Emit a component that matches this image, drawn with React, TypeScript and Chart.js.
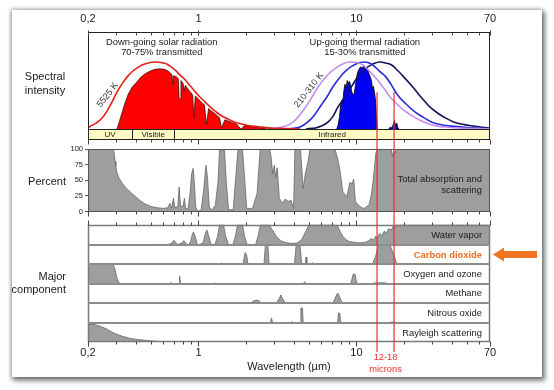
import { useEffect, useRef } from 'react';
import { Chart, registerables } from 'chart.js';

Chart.register(...registerables);

const FONT = '"Liberation Sans", Arial, sans-serif';

// ---------- axes / ticks ----------
const xTickValues = [0.2, 0.3, 0.4, 0.5, 0.6, 0.7, 0.8, 0.9, 1, 2, 3, 4, 5, 6, 7, 8, 9, 10, 20, 30, 40, 50, 60, 70];
const xLabelValues = [0.2, 1, 10, 70];
const xLabelTexts = ['0,2', '1', '10', '70'];
const pctTicks = [0, 25, 50, 75, 100];

const bandNames = ['UV', 'Visible', 'Infrared'];
const bandEdges = [0.2, 0.38, 0.705, 70];

const co2Window = [13.5, 17.3];
const co2WindowLabel = ['12-18', 'microns'];

// ---------- spectral intensity panel (wavelength µm, relative intensity) ----------
const solarBlackbody = [[0.2, 1], [0.203, 2], [0.225, 6], [0.245, 11], [0.265, 19], [0.284, 28], [0.305, 38], [0.33, 47], [0.355, 54], [0.38, 59], [0.41, 63], [0.44, 66], [0.48, 68], [0.53, 69], [0.58, 68.5], [0.63, 67], [0.67, 64], [0.71, 61], [0.76, 56], [0.82, 51], [0.88, 45], [0.96, 38], [1.02, 33], [1.1, 28], [1.2, 22], [1.33, 16], [1.5, 11], [1.7, 7], [1.9, 5], [2.18, 3], [2.5, 2], [2.9, 1], [3.5, 0.5], [4.4, 0]];
const solarTransmitted = [[0.305, 0], [0.315, 7], [0.33, 18], [0.345, 28], [0.36, 36], [0.38, 43], [0.4, 47], [0.43, 53], [0.46, 57], [0.5, 60], [0.53, 61.5], [0.57, 62], [0.61, 61.5], [0.64, 60], [0.67, 57], [0.68, 56], [0.688, 46], [0.697, 55], [0.72, 54], [0.745, 52], [0.755, 32], [0.765, 31], [0.775, 50], [0.8, 47], [0.812, 39], [0.825, 45], [0.86, 41], [0.9, 37], [0.92, 35], [0.935, 11], [0.955, 34], [1.0, 31], [1.05, 27], [1.09, 25], [1.125, 5], [1.16, 21], [1.22, 18], [1.3, 14.5], [1.36, 11.5], [1.4, 1], [1.47, 9.5], [1.55, 8], [1.65, 6.5], [1.75, 5], [1.83, 1], [1.88, 0], [1.95, 3.5], [2.05, 3], [2.2, 2.5], [2.4, 1.5], [2.6, 1], [2.7, 0], [3.0, 0.5], [3.5, 0]];
const thermalHot = [[2.9, 0.3], [3.4, 2], [3.8, 5], [4.2, 11], [4.6, 19], [5.1, 30], [5.6, 41], [6.2, 51], [6.9, 59], [7.6, 64], [8.3, 67.5], [9.1, 69], [10, 68.5], [11, 66], [12.2, 59], [13.5, 51], [14.9, 42], [16.3, 33], [18, 26], [19.7, 20], [22.3, 14], [25.2, 9], [28.5, 5.5], [32.5, 3], [38, 1.8], [44, 1], [55, 0.4], [70, 0.2]];
const thermalMid = [[3.8, 0.3], [4.4, 2], [4.9, 7], [5.4, 14], [6.0, 25], [6.5, 33], [7.0, 42], [7.5, 49], [8.1, 56], [8.7, 61], [9.3, 64.5], [10.1, 67.5], [11.0, 69], [11.8, 68.5], [12.7, 66], [13.9, 60], [15.3, 54], [16.7, 45], [18.2, 35], [20.5, 26], [23.3, 18], [26.5, 12], [30, 7], [35, 4.2], [40, 3], [50, 1.5], [62, 0.7], [70, 0.4]];
const thermalCold = [[4.8, 0.3], [5.5, 1], [6.0, 3], [6.6, 7], [7.1, 13], [7.6, 22], [8.2, 30], [8.8, 38], [9.5, 46], [10.2, 54], [11.0, 60], [11.8, 64], [12.9, 67.5], [14.1, 69], [15.3, 68], [16.7, 66], [18.3, 60], [20.1, 53], [22.8, 43], [25.9, 32], [29, 23], [32.9, 16], [37, 11], [41.5, 7], [48, 4.5], [55, 3], [62, 1.8], [70, 1]];
const thermalTransmitted = [[7.5, 0], [7.65, 4], [7.8, 12], [7.95, 25], [8.1, 30], [8.2, 27], [8.3, 38], [8.45, 46], [8.6, 43], [8.75, 50], [8.9, 47], [9.05, 49], [9.2, 44], [9.35, 38], [9.55, 35], [9.7, 37], [9.85, 45], [10.0, 52], [10.15, 58], [10.35, 61], [10.6, 64], [10.85, 63], [11.1, 65], [11.4, 62], [11.7, 63], [12.0, 57], [12.2, 54], [12.45, 50], [12.6, 42], [12.8, 44], [13.0, 38], [13.2, 30], [13.4, 12], [13.6, 0]];
const thermalTransmittedFar = [[16.0, 0], [16.4, 2], [16.8, 1], [17.1, 5], [17.4, 9], [17.7, 3], [18.0, 6], [18.3, 1], [18.6, 0]];

// ---------- total absorption (%) ----------
const totalAbsorption = [[0.2, 100], [0.29, 100], [0.293, 92], [0.297, 80], [0.3, 72], [0.305, 62], [0.315, 53], [0.33, 45], [0.345, 39], [0.37, 31], [0.4, 24], [0.43, 17], [0.46, 12], [0.5, 8], [0.55, 6], [0.6, 5], [0.64, 6], [0.66, 13], [0.675, 5], [0.695, 21], [0.71, 6], [0.74, 8], [0.755, 39], [0.77, 8], [0.8, 9], [0.815, 21], [0.83, 4], [0.86, 5], [0.885, 29], [0.905, 60], [0.925, 69], [0.94, 50], [0.96, 8], [0.99, 0], [1.04, 3], [1.08, 35], [1.115, 74], [1.14, 55], [1.17, 8], [1.21, 2], [1.28, 10], [1.33, 48], [1.36, 98], [1.46, 98], [1.5, 48], [1.55, 3], [1.66, 3], [1.72, 53], [1.78, 100], [1.9, 100], [1.96, 53], [2.02, 5], [2.2, 5], [2.35, 29], [2.46, 100], [2.82, 100], [2.88, 88], [2.95, 60], [3.02, 74], [3.08, 55], [3.15, 70], [3.25, 21], [3.4, 14], [3.55, 20], [3.7, 16], [3.85, 18], [4.0, 5], [4.08, 100], [4.42, 100], [4.6, 37], [4.75, 61], [4.95, 81], [5.08, 100], [7.3, 100], [7.6, 85], [7.9, 63], [8.2, 31], [8.7, 24], [9.1, 47], [9.4, 44], [9.6, 52], [9.85, 16], [10.3, 10], [10.8, 6], [11.2, 5], [11.6, 8], [12.0, 10], [12.4, 26], [12.8, 52], [13.1, 80], [13.3, 95], [13.6, 100], [16.6, 100], [16.9, 88], [17.2, 97], [17.5, 92], [17.8, 100], [70, 100]];

// ---------- major components (%) ----------
const waterVapor = [[0.2, 0], [0.55, 0], [0.57, 2], [0.6, 0], [0.64, 0], [0.68, 8], [0.7, 22], [0.72, 10], [0.74, 0], [0.78, 8], [0.81, 20], [0.84, 3], [0.87, 0], [0.89, 15], [0.91, 45], [0.93, 64], [0.95, 45], [0.98, 5], [1.0, 0], [1.07, 8], [1.1, 50], [1.13, 74], [1.16, 45], [1.2, 2], [1.27, 0], [1.32, 40], [1.36, 100], [1.44, 100], [1.49, 40], [1.55, 2], [1.65, 0], [1.71, 40], [1.77, 100], [1.9, 100], [1.96, 40], [2.03, 2], [2.3, 0], [2.38, 40], [2.47, 100], [2.8, 100], [2.9, 80], [3.0, 62], [3.1, 45], [3.2, 30], [3.35, 18], [3.6, 10], [3.9, 6], [4.2, 8], [4.5, 25], [4.8, 70], [5.0, 100], [7.4, 100], [7.6, 92], [7.9, 65], [8.2, 42], [8.6, 25], [9.0, 16], [9.6, 12], [10.5, 9], [11.3, 11], [12.0, 20], [12.4, 32], [12.8, 22], [13.2, 42], [13.6, 33], [14.0, 56], [14.5, 46], [15.0, 68], [15.5, 58], [16.0, 80], [16.6, 73], [17.2, 95], [17.8, 100], [70, 100]];
const carbonDioxide = [[0.2, 0], [1.38, 0], [1.4, 8], [1.42, 0], [1.58, 0], [1.6, 5], [1.62, 0], [1.92, 0], [1.95, 40], [1.98, 60], [2.02, 45], [2.06, 0], [2.6, 0], [2.65, 95], [2.75, 95], [2.8, 0], [4.05, 0], [4.15, 95], [4.4, 95], [4.5, 0], [4.75, 0], [4.8, 37], [4.85, 0], [5.2, 0], [5.25, 8], [5.3, 0], [9.3, 0], [9.4, 5], [9.5, 0], [10.3, 0], [10.4, 5], [10.5, 0], [12.6, 0], [13.2, 40], [13.8, 97], [16.3, 97], [17.4, 40], [18.0, 0], [70, 0]];
const oxygenOzone = [[0.2, 100], [0.288, 100], [0.295, 80], [0.3, 55], [0.305, 30], [0.312, 10], [0.32, 0], [0.66, 0], [0.67, 6], [0.68, 0], [0.755, 0], [0.76, 40], [0.77, 0], [1.26, 0], [1.27, 5], [1.28, 0], [4.6, 0], [4.7, 10], [4.8, 0], [9.2, 0], [9.4, 30], [9.55, 50], [9.8, 48], [9.95, 20], [10.1, 0], [12.5, 0], [13.0, 4], [15, 5], [16, 0], [70, 0]];
const methane = [[0.2, 0], [2.15, 0], [2.25, 12], [2.35, 15], [2.45, 8], [2.5, 0], [3.1, 0], [3.2, 15], [3.28, 30], [3.32, 42], [3.38, 28], [3.45, 15], [3.55, 0], [7.1, 0], [7.3, 20], [7.5, 45], [7.65, 50], [7.8, 35], [8.0, 12], [8.2, 0], [70, 0]];
const nitrousOxide = [[0.2, 0], [2.85, 0], [2.9, 25], [2.95, 0], [3.85, 0], [3.9, 8], [3.95, 0], [4.4, 0], [4.45, 75], [4.55, 75], [4.6, 0], [7.6, 0], [7.7, 50], [7.85, 48], [7.95, 0], [8.5, 0], [8.6, 5], [8.7, 0], [16, 0], [16.6, 5], [17.5, 4], [18, 0], [70, 0]];
const rayleigh = [[0.2, 93], [0.22, 92], [0.24, 82], [0.26, 70], [0.28, 55], [0.3, 43], [0.33, 30], [0.37, 19], [0.41, 13], [0.46, 9], [0.5, 6], [0.57, 3], [0.64, 1.5], [0.75, 0.5], [0.85, 0], [70, 0]];

const componentNames = ['Water vapor', 'Carbon dioxide', 'Oxygen and ozone', 'Methane', 'Nitrous oxide', 'Rayleigh scattering'];
const componentSeries = [waterVapor, carbonDioxide, oxygenOzone, methane, nitrousOxide, rayleigh];
const componentAxes = ['yWV', 'yCO2', 'yO3', 'yCH4', 'yN2O', 'yRay'];

const pts = (a: number[][]) => a.map(([x, y]) => ({ x, y }));

function ds(label: string, data: number[][], yAxisID: string, opts: any = {}) {
  return {
    label, data: pts(data), xAxisID: 'x', yAxisID,
    pointRadius: 0, borderWidth: 1, tension: 0, fill: false, ...opts,
  };
}

function yHidden(stackWeight: number, weight: number, max = 100) {
  return {
    type: 'linear', position: 'left', stack: 'panels', stackWeight, weight, min: 0, max,
    grid: { display: false, drawTicks: false }, border: { display: false }, ticks: { display: false },
    afterFit: (s: any) => { s.width = 18; },
  };
}

function xAxis(position: 'top' | 'bottom') {
  return {
    type: 'logarithmic', position, min: 0.2, max: 70, bounds: 'data',
    afterBuildTicks: (s: any) => { s.ticks = xTickValues.map(v => ({ value: v, major: xLabelValues.includes(v) })); },
    ticks: {
      autoSkip: false, maxRotation: 0, minRotation: 0, color: '#1a1a1a',
      padding: position === 'top' ? 6 : 4,
      font: { size: 11, family: FONT },
      callback: (v: number) => { const i = xLabelValues.indexOf(v); return i >= 0 ? xLabelTexts[i] : ''; },
    },
    grid: { display: false, drawTicks: false, tickLength: 0 }, border: { display: false },
    title: position === 'bottom'
      ? { display: true, text: 'Wavelength (µm)', color: '#1a1a1a', font: { size: 11, family: FONT }, padding: { top: 0, bottom: 0 } }
      : { display: false },
    afterFit: (s: any) => { s.height = position === 'top' ? 20 : 32; },
  };
}

const overlayPlugin = {
  id: 'overlay',
  beforeDatasetsDraw(chart: any) {
    const { ctx, chartArea: ca, scales: s } = chart;
    ctx.save();
    ctx.fillStyle = '#fffac4';
    ctx.fillRect(ca.left, s.yBand.top, ca.right - ca.left, s.yBand.bottom - s.yBand.top);
    ctx.restore();
  },
  afterDatasetsDraw(chart: any) {
    const { ctx, chartArea: ca, scales: s } = chart;
    const x = s.x;
    const L = Math.round(ca.left) + 0.5;
    const R = Math.round(ca.right) - 0.5;
    const r = (v: number) => Math.round(v) + 0.5;
    const seg = (x1: number, y1: number, x2: number, y2: number) => { ctx.beginPath(); ctx.moveTo(x1, y1); ctx.lineTo(x2, y2); ctx.stroke(); };
    ctx.save();
    // spectral panel
    ctx.strokeStyle = '#222'; ctx.lineWidth = 1;
    ctx.strokeRect(L, r(s.ySpec.top), R - L, Math.round(s.ySpec.bottom) - Math.round(s.ySpec.top));
    // band
    const bt = r(s.yBand.top), bb = r(s.yBand.bottom) - 1;
    ctx.strokeRect(L, bt, R - L, bb - bt);
    bandEdges.slice(1, -1).forEach(v => { const px = r(x.getPixelForValue(v)); seg(px, bt, px, bb); });
    ctx.fillStyle = '#222'; ctx.font = `8px ${FONT}`; ctx.textAlign = 'center'; ctx.textBaseline = 'middle';
    bandNames.forEach((n, i) => {
      const c = Math.sqrt(bandEdges[i] * bandEdges[i + 1]);
      ctx.fillText(n, x.getPixelForValue(c), (bt + bb) / 2 + 0.5);
    });
    // percent panel
    const pt = r(s.yPct.top), pb = r(s.yPct.bottom) - 1;
    ctx.strokeStyle = '#555';
    ctx.strokeRect(L, pt, R - L, pb - pt);
    // component panels
    const ct = r(s.yWV.top), cb = r(s.yRay.bottom) - 1;
    ctx.strokeStyle = '#7a7a7a'; ctx.lineWidth = 1.5;
    ctx.strokeRect(L, ct, R - L, cb - ct);
    ctx.strokeStyle = '#8c8c8c'; ctx.lineWidth = 2;
    componentAxes.slice(1).forEach(id => { const y = Math.round(s[id].top); seg(ca.left, y, ca.right, y); });
    // tick marks
    ctx.strokeStyle = '#444'; ctx.lineWidth = 1;
    xTickValues.forEach(v => {
      const px = r(x.getPixelForValue(v));
      const big = xLabelValues.includes(v) ? 2 : 0;
      seg(px, r(s.ySpec.top) - big, px, r(s.ySpec.top) + 3);
      seg(px, bb, px, bb + 3 + big);
      seg(px, pb, px, pb + 3 + big);
      seg(px, ct - 3 - big, px, ct);
      seg(px, cb, px, cb + 3 + big);
    });
    // 12-18 micron lines
    ctx.strokeStyle = '#e8302a'; ctx.lineWidth = 1.2;
    const yTop = s.ySpec.getPixelForValue(38);
    co2Window.forEach(v => { const px = x.getPixelForValue(v); seg(px, yTop, px, ca.bottom + 10); });
    ctx.restore();
  },
  afterDraw(chart: any) {
    const { ctx, chartArea: ca, scales: s } = chart;
    const x = s.x;
    ctx.save();
    ctx.fillStyle = '#1a1a1a'; ctx.textBaseline = 'middle'; ctx.textAlign = 'center';
    ctx.font = `9.4px ${FONT}`;
    const st = s.ySpec.top;
    ctx.fillText('Down-going solar radiation', x.getPixelForValue(0.586), st + 10);
    ctx.fillText('70-75% transmitted', x.getPixelForValue(0.586), st + 20.5);
    ctx.fillText('Up-going thermal radiation', x.getPixelForValue(11.3), st + 10);
    ctx.fillText('15-30% transmitted', x.getPixelForValue(11.3), st + 20.5);
    // rotated temperature labels
    ctx.font = `9px ${FONT}`; ctx.fillStyle = '#333';
    const rot = (t: string, wl: number, v: number) => {
      ctx.save();
      ctx.translate(x.getPixelForValue(wl), s.ySpec.getPixelForValue(v));
      ctx.rotate(-52 * Math.PI / 180);
      ctx.fillText(t, 0, 0);
      ctx.restore();
    };
    rot('5525 K', 0.266, 35);
    rot('210-310 K', 5.0, 40);
    // right labels
    ctx.fillStyle = '#1a1a1a'; ctx.textAlign = 'right';
    const RX = ca.right - 8;
    ctx.font = `9.4px ${FONT}`;
    ctx.fillText('Total absorption and', RX, s.yPct.top + 30);
    ctx.fillText('scattering', RX, s.yPct.top + 41);
    componentAxes.forEach((id, i) => {
      const sc = s[id];
      const y = (sc.top + sc.bottom) / 2 + 0.5;
      if (i === 1) { ctx.font = `bold 9.4px ${FONT}`; ctx.fillStyle = '#ea6e1c'; }
      else { ctx.font = `9.4px ${FONT}`; ctx.fillStyle = '#1a1a1a'; }
      ctx.fillText(componentNames[i], RX, y);
    });
    // left labels
    ctx.font = `11px ${FONT}`; ctx.fillStyle = '#1a1a1a'; ctx.textAlign = 'center';
    ctx.fillText('Spectral', 45, 77);
    ctx.fillText('intensity', 45, 90.5);
    ctx.fillText('Percent', 47, 182);
    ctx.textAlign = 'right';
    ctx.fillText('Major', 66, 277);
    ctx.fillText('component', 66, 290);
    // 12-18 microns label
    ctx.textAlign = 'center'; ctx.fillStyle = '#e8302a'; ctx.font = `9.3px ${FONT}`;
    const mx = (x.getPixelForValue(co2Window[0]) + x.getPixelForValue(co2Window[1])) / 2;
    ctx.fillText(co2WindowLabel[0], mx, 357);
    ctx.fillText(co2WindowLabel[1], mx, 369);
    // orange arrow pointing to carbon dioxide
    const cy = (s.yCO2.top + s.yCO2.bottom) / 2;
    const tip = ca.right + 3, neck = ca.right + 14, tail = 537;
    ctx.fillStyle = '#f07522';
    ctx.beginPath();
    ctx.moveTo(tip, cy);
    ctx.lineTo(neck, cy - 7);
    ctx.lineTo(neck, cy - 3.6);
    ctx.lineTo(tail, cy - 3.6);
    ctx.lineTo(tail, cy + 3.6);
    ctx.lineTo(neck, cy + 3.6);
    ctx.lineTo(neck, cy + 7);
    ctx.closePath();
    ctx.fill();
    ctx.restore();
  },
};

export default function App() {
  const ref = useRef<HTMLCanvasElement>(null);
  useEffect(() => {
    if (!ref.current) return;
    Chart.defaults.font.family = FONT;
    const GRAY = '#9e9e9e', GRAY_LINE = '#666';
    const datasets: any[] = [
      ds('5525 K blackbody', solarBlackbody, 'ySpec', { borderColor: '#e3201b', borderWidth: 1.6, cubicInterpolationMode: 'monotone' }),
      ds('310 K', thermalHot, 'ySpec', { borderColor: '#c58cf0', borderWidth: 1.6, cubicInterpolationMode: 'monotone' }),
      ds('260 K', thermalMid, 'ySpec', { borderColor: '#2a2ad6', borderWidth: 1.6, cubicInterpolationMode: 'monotone' }),
      ds('210 K', thermalCold, 'ySpec', { borderColor: '#14145a', borderWidth: 1.6, cubicInterpolationMode: 'monotone' }),
      ds('Solar transmitted', solarTransmitted, 'ySpec', { backgroundColor: '#ff0000', borderColor: '#2a0000', borderWidth: 0.7, fill: 'origin' }),
      ds('Thermal transmitted', thermalTransmitted, 'ySpec', { backgroundColor: '#0000f5', borderColor: '#000', borderWidth: 0.8, fill: 'origin' }),
      ds('Thermal transmitted far', thermalTransmittedFar, 'ySpec', { backgroundColor: '#0000f5', borderColor: '#000', borderWidth: 0.8, fill: 'origin' }),
      ds('Total absorption and scattering', totalAbsorption, 'yPct', { backgroundColor: GRAY, borderColor: GRAY_LINE, borderWidth: 0.8, fill: 'origin' }),
      ...componentSeries.map((d, i) => ds(componentNames[i], d, componentAxes[i], { backgroundColor: GRAY, borderColor: GRAY_LINE, borderWidth: 0.8, fill: 'origin' })),
    ];
    const chart = new Chart(ref.current, {
      type: 'line',
      data: { datasets },
      options: {
        animation: false,
        responsive: false,
        maintainAspectRatio: false,
        devicePixelRatio: 1,
        layout: { autoPadding: false, padding: { left: 70, right: 64, top: 12, bottom: 16 } },
        plugins: { legend: { display: false }, tooltip: { enabled: false } },
        events: [],
        scales: {
          x: xAxis('bottom'),
          x2: xAxis('top'),
          ySpec: yHidden(97, 11),
          yBand: yHidden(11, 10, 1),
          yGap1: yHidden(9, 9, 1),
          yPct: {
            type: 'linear', position: 'left', stack: 'panels', stackWeight: 62.5, weight: 8, min: 0, max: 100,
            afterBuildTicks: (sc: any) => { sc.ticks = pctTicks.map(v => ({ value: v })); },
            ticks: { color: '#1a1a1a', padding: 2, autoSkip: false, font: { size: 7.5, family: FONT } },
            grid: { display: true, drawOnChartArea: false, tickLength: 3, color: '#555' },
            border: { display: false },
            afterFit: (sc: any) => { sc.width = 18; },
          },
          yGap2: yHidden(13.2, 7, 1),
          yWV: yHidden(20, 6),
          yCO2: yHidden(19.6, 5),
          yO3: yHidden(19.4, 4),
          yCH4: yHidden(19.3, 3),
          yN2O: yHidden(20, 2),
          yRay: yHidden(19, 1),
        },
      } as any,
      plugins: [overlayPlugin],
    } as any);
    return () => chart.destroy();
  }, []);
  return (
    <div style={{ position: 'absolute', left: 0, top: 0, width: 554, height: 390, background: '#fff', overflow: 'hidden' }}>
      <div style={{ position: 'absolute', left: 12, top: 10, width: 530, height: 367, background: '#fff', boxShadow: '2px 3px 5px 1px rgba(0,0,0,0.45), 0 0 4px 1px rgba(0,0,0,0.3)' }} />
      <canvas ref={ref} width={554} height={390} style={{ position: 'absolute', left: 0, top: 0, width: 554, height: 390 }} />
    </div>
  );
}
